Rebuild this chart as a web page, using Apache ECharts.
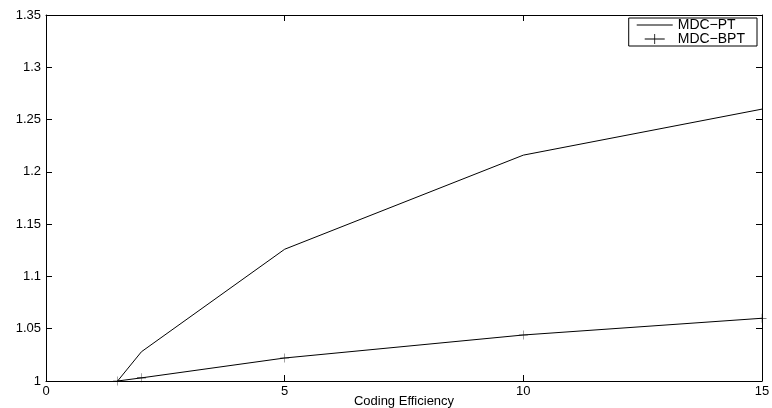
<!DOCTYPE html>
<html>
<head>
<meta charset="utf-8">
<script src="https://cdn.jsdelivr.net/npm/echarts@6/dist/echarts.min.js"></script>
<style>
  html, body { margin: 0; padding: 0; background: #fff; }
  #chart { width: 772px; height: 408px; }
</style>
</head>
<body>
<div id="chart"></div>
<script>
// data
const efficiency = [1.5, 2, 5, 10, 15];
const mdcPT = [1.0, 1.028, 1.126, 1.216, 1.26];
const mdcBPT = [1.0, 1.003, 1.022, 1.044, 1.06];
const seriesNames = ['MDC\u2212PT', 'MDC\u2212BPT'];

const font = 'Liberation Sans, Arial, Helvetica, sans-serif';
const plusIcon = 'path://M0,4.6H20V5.4H0Z M9.6,0H10.4V10H9.6Z';
const lineIcon = 'path://M0,4.7H20V5.3H0Z';

const chart = echarts.init(document.getElementById('chart'));

// box axes, matlab style: ticks pointing into the plot
function boxAxis(extra) {
  return Object.assign({
    axisLine: { show: true, onZero: false, lineStyle: { color: '#000', width: 1 } },
    axisTick: { show: true, inside: true, length: 6, lineStyle: { color: '#000', width: 1 } },
    splitLine: { show: false }
  }, extra);
}

const option = {
  animation: false,
  backgroundColor: '#fff',
  grid: { left: 46, right: 10, top: 15, bottom: 27, outerBoundsMode: 'none', containLabel: false },
  legend: {
    right: 15,
    top: 18,
    orient: 'vertical',
    backgroundColor: '#fff',
    borderColor: '#000',
    borderWidth: 1,
    borderRadius: 0,
    padding: [0, 12, 0, 8],
    itemGap: 0,
    itemWidth: 36,
    itemHeight: 10,
    textStyle: { fontFamily: font, fontSize: 14, lineHeight: 13, color: '#000' },
    data: [
      { name: seriesNames[0], icon: lineIcon },
      { name: seriesNames[1], icon: plusIcon }
    ]
  },
  xAxis: [
    boxAxis({
      type: 'value', min: 0, max: 15, interval: 5, position: 'bottom',
      name: 'Coding Efficiency', nameLocation: 'middle', nameGap: 14,
      nameMoveOverlap: false,
      nameTextStyle: { fontFamily: font, fontSize: 13, color: '#000' },
      axisLabel: { fontFamily: font, fontSize: 13, color: '#000', margin: 4 }
    }),
    boxAxis({
      type: 'value', min: 0, max: 15, interval: 5, position: 'top',
      axisLabel: { show: false }
    })
  ],
  yAxis: [
    boxAxis({
      type: 'value', min: 1, max: 1.35, interval: 0.05, position: 'left',
      axisLabel: {
        fontFamily: font, fontSize: 13, color: '#000', margin: 5,
        formatter: v => String(Math.round(v * 100) / 100)
      }
    }),
    boxAxis({
      type: 'value', min: 1, max: 1.35, interval: 0.05, position: 'right',
      axisLabel: { show: false }
    })
  ],
  series: [
    {
      name: seriesNames[0],
      type: 'line',
      data: efficiency.map((x, i) => [x, mdcPT[i]]),
      symbol: 'none',
      lineStyle: { color: '#000', width: 1 },
      itemStyle: { color: '#000' }
    },
    {
      name: seriesNames[1],
      type: 'line',
      data: efficiency.map((x, i) => [x, mdcBPT[i]]),
      symbol: plusIcon,
      symbolSize: 9,
      showAllSymbol: true,
      lineStyle: { color: '#000', width: 1 },
      itemStyle: { color: '#000' }
    }
  ]
};

chart.setOption(option);
</script>
</body>
</html>
